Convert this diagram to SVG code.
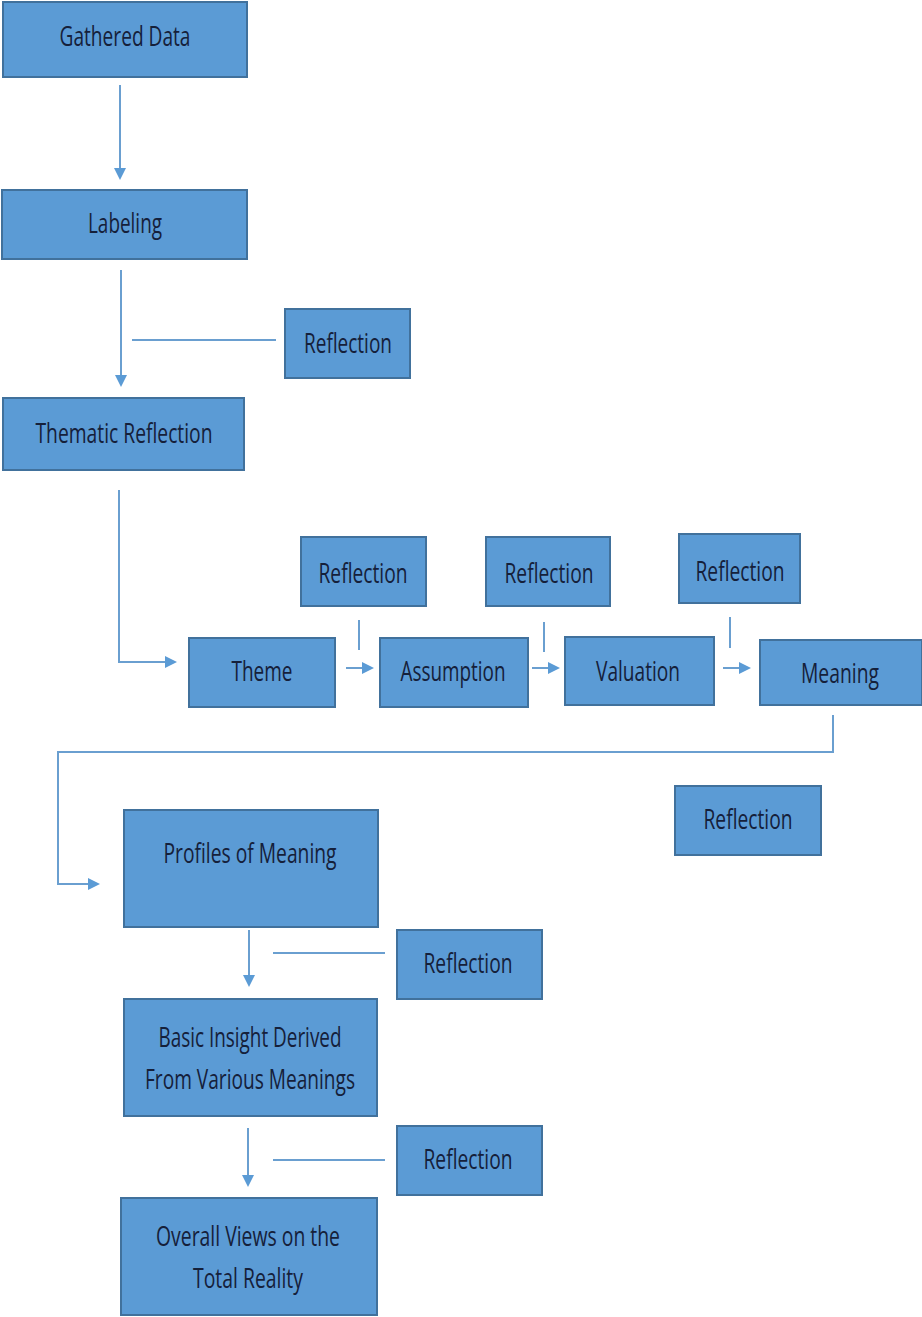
<svg xmlns="http://www.w3.org/2000/svg" width="922" height="1317" viewBox="0 0 922 1317">
<style>
.box{fill:#5b9bd5;stroke:#41719c;stroke-width:2}
.t{font-family:"Open Sans","Liberation Sans",sans-serif;font-size:28px;fill:#15203a;text-anchor:middle}
.c{fill:none;stroke:#6a9fd0;stroke-width:2}
</style>
<defs>
<marker id="ah" markerWidth="12" markerHeight="12" refX="10" refY="6" orient="auto" markerUnits="userSpaceOnUse">
<path d="M0,0 L12,6 L0,12 Z" fill="#5b9bd5"/>
</marker>
</defs>
<rect width="922" height="1317" fill="#ffffff"/>
<g id="connectors">
<path class="c" d="M120,85 V178" marker-end="url(#ah)"/>
<path class="c" d="M121,270 V385" marker-end="url(#ah)"/>
<path class="c" d="M132,340 H276"/>
<path class="c" d="M119,490 V662 H175" marker-end="url(#ah)"/>
<path class="c" d="M359,620 V650"/>
<path class="c" d="M346,668 H372" marker-end="url(#ah)"/>
<path class="c" d="M544,622 V652"/>
<path class="c" d="M532,668 H558" marker-end="url(#ah)"/>
<path class="c" d="M730,617 V648"/>
<path class="c" d="M723,668 H749" marker-end="url(#ah)"/>
<path class="c" d="M833,715 V752 H58 V884 H98" marker-end="url(#ah)"/>
<path class="c" d="M249,930 V985" marker-end="url(#ah)"/>
<path class="c" d="M273,953 H385"/>
<path class="c" d="M248,1128 V1185" marker-end="url(#ah)"/>
<path class="c" d="M273,1160 H385"/>
</g>
<g id="gathered"><rect class="box" x="3" y="2" width="244" height="75"/><text class="t" x="125" y="46" textLength="131" lengthAdjust="spacingAndGlyphs">Gathered Data</text></g>
<g id="labeling"><rect class="box" x="2" y="190" width="245" height="69"/><text class="t" x="125" y="233" textLength="74" lengthAdjust="spacingAndGlyphs">Labeling</text></g>
<g id="reflection0"><rect class="box" x="285" y="309" width="125" height="69"/><text class="t" x="348" y="353" textLength="88" lengthAdjust="spacingAndGlyphs">Reflection</text></g>
<g id="thematic"><rect class="box" x="3" y="398" width="241" height="72"/><text class="t" x="124" y="443" textLength="177" lengthAdjust="spacingAndGlyphs">Thematic Reflection</text></g>
<g id="theme"><rect class="box" x="189" y="638" width="146" height="69"/><text class="t" x="262" y="681" textLength="61" lengthAdjust="spacingAndGlyphs">Theme</text></g>
<g id="reflection1"><rect class="box" x="301" y="537" width="125" height="69"/><text class="t" x="363" y="583" textLength="89" lengthAdjust="spacingAndGlyphs">Reflection</text></g>
<g id="assumption"><rect class="box" x="380" y="638" width="148" height="69"/><text class="t" x="453" y="681" textLength="105" lengthAdjust="spacingAndGlyphs">Assumption</text></g>
<g id="reflection2"><rect class="box" x="486" y="537" width="124" height="69"/><text class="t" x="549" y="583" textLength="89" lengthAdjust="spacingAndGlyphs">Reflection</text></g>
<g id="valuation"><rect class="box" x="565" y="637" width="149" height="68"/><text class="t" x="638" y="681" textLength="84" lengthAdjust="spacingAndGlyphs">Valuation</text></g>
<g id="reflection3"><rect class="box" x="679" y="534" width="121" height="69"/><text class="t" x="740" y="581" textLength="89" lengthAdjust="spacingAndGlyphs">Reflection</text></g>
<g id="meaning"><rect class="box" x="760" y="640" width="162" height="65"/><text class="t" x="840" y="683" textLength="78" lengthAdjust="spacingAndGlyphs">Meaning</text></g>
<g id="reflection4"><rect class="box" x="675" y="786" width="146" height="69"/><text class="t" x="748" y="829" textLength="89" lengthAdjust="spacingAndGlyphs">Reflection</text></g>
<g id="profiles"><rect class="box" x="124" y="810" width="254" height="117"/><text class="t" x="250" y="863" textLength="173" lengthAdjust="spacingAndGlyphs">Profiles of Meaning</text></g>
<g id="reflection5"><rect class="box" x="397" y="930" width="145" height="69"/><text class="t" x="468" y="973" textLength="89" lengthAdjust="spacingAndGlyphs">Reflection</text></g>
<g id="insight"><rect class="box" x="124" y="999" width="253" height="117"/><text class="t" x="250" y="1047" textLength="183" lengthAdjust="spacingAndGlyphs">Basic Insight Derived</text><text class="t" x="250" y="1089" textLength="210" lengthAdjust="spacingAndGlyphs">From Various Meanings</text></g>
<g id="reflection6"><rect class="box" x="397" y="1126" width="145" height="69"/><text class="t" x="468" y="1169" textLength="89" lengthAdjust="spacingAndGlyphs">Reflection</text></g>
<g id="overall"><rect class="box" x="121" y="1198" width="256" height="117"/><text class="t" x="248" y="1246" textLength="184" lengthAdjust="spacingAndGlyphs">Overall Views on the</text><text class="t" x="248" y="1288" textLength="110" lengthAdjust="spacingAndGlyphs">Total Reality</text></g>
</svg>
